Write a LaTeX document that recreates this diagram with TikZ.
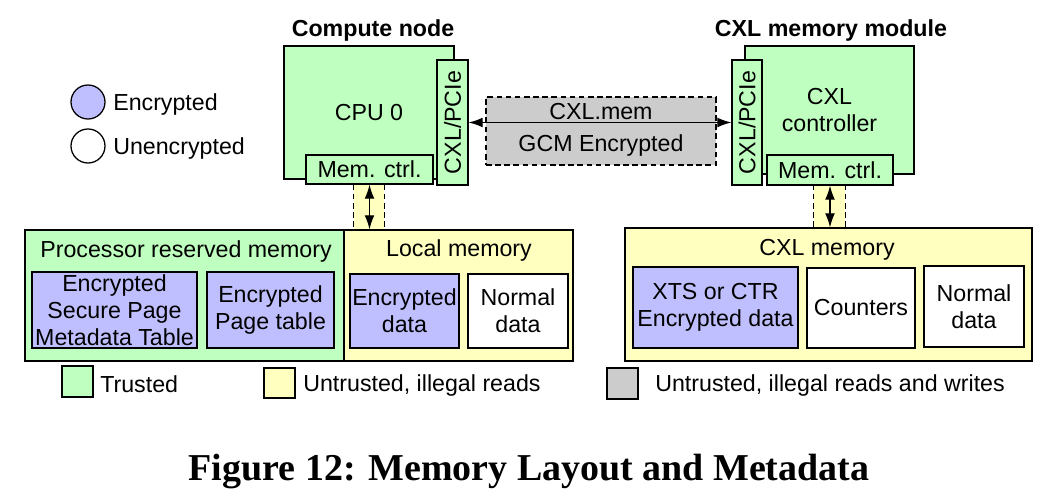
\documentclass[tikz,border=0pt]{standalone}
\usepackage{fontspec}
\setsansfont{Liberation Sans}
\newfontfamily\capfont{Liberation Serif}
\usetikzlibrary{arrows.meta}
\definecolor{trustgreen}{HTML}{BFFFBF}
\definecolor{untrustyellow}{HTML}{FFFFBF}
\definecolor{encblue}{HTML}{BFBFFF}
\definecolor{rwgray}{HTML}{CCCCCC}
\tikzset{
  sz/.style 2 args={minimum width=#1*0.025cm, minimum height=#2*0.025cm},
  box/.style={draw, line width=0.9pt, inner sep=0pt, align=center},
  trusted/.style={box, fill=trustgreen},
  untrusted/.style={box, fill=untrustyellow},
  encrypted/.style={box, fill=encblue},
  plainbox/.style={box, fill=white},
  txt/.style={inner sep=0pt, yshift=-1.6pt},
  dashline/.style={line width=0.9pt, dash pattern=on 4pt off 2.5pt},
  dblarrow/.style={{Latex[length=10pt,width=7pt]}-{Latex[length=10pt,width=7pt]}, line width=0.9pt},
}
\begin{document}
\begin{tikzpicture}[x=0.025cm, y=-0.025cm, font=\sffamily\fontsize{16.5}{19.2}\selectfont]
 \useasboundingbox (0,0) rectangle (1045,490);
 % legend, circles
 \node[encrypted, circle, sz={34}{34}] (legenc) at (88,102) {};
 \node[txt, anchor=west] (legenctxt) at (113,102) {Encrypted};
 \node[plainbox, circle, sz={34}{34}] (legunenc) at (88,146) {};
 \node[txt, anchor=west] (legunenctxt) at (113,146) {Unencrypted};
 % headings
 \node[txt, font=\sffamily\bfseries\fontsize{16.5}{19.2}\selectfont] (cnhead) at (373,28) {Compute node};
 \node[txt, font=\sffamily\bfseries\fontsize{16.5}{19.2}\selectfont] (cmhead) at (831,28) {CXL memory module};
 % memory channels
 \node[fill=untrustyellow, inner sep=0pt, sz={30}{45}] (lchan) at (369,207.5) {};
 \draw[dashline] (lchan.north west) -- (lchan.south west) (lchan.north east) -- (lchan.south east);
 \node[fill=untrustyellow, inner sep=0pt, sz={31}{43}] (rchan) at (829.5,206.5) {};
 \draw[dashline] (rchan.north west) -- (rchan.south west) (rchan.north east) -- (rchan.south east);
 % memories
 \node[trusted, sz={319}{131}] (prm) at (184.5,295.5) {};
 \node[txt] (prmtxt) at (186,249) {Processor reserved memory};
 \node[encrypted, sz={165}{76}] (spmt) at (114.5,310) {Encrypted\\Secure Page\\Metadata Table};
 \node[encrypted, sz={127}{76}] (ptab) at (270.5,310) {Encrypted\\Page table};
 \node[untrusted, sz={229}{131}] (locmem) at (458.5,295.5) {};
 \node[txt] (locmemtxt) at (459,248) {Local memory};
 \node[encrypted, sz={109}{74}] (encdata) at (404.5,311) {Encrypted\\data};
 \node[plainbox, sz={100}{74}] (normdata) at (518,311) {Normal\\data};
 \node[untrusted, sz={407}{133}] (cxlmem) at (828.5,294.5) {};
 \node[txt] (cxlmemtxt) at (827,248) {CXL memory};
 \node[encrypted, sz={165}{81}] (xtsdata) at (715.5,307.5) {XTS or CTR\\Encrypted data};
 \node[plainbox, sz={108}{80}] (counters) at (861,308) {Counters};
 \node[plainbox, sz={100}{81}] (cxlnorm) at (974,306.5) {Normal\\data};
 % compute node
 \node[trusted, sz={170}{133}] (cpu) at (369,112.5) {CPU 0};
 \node[trusted, sz={31}{125}] (cpupcie) at (452.5,122.5) {\rotatebox{90}{CXL/PCIe}};
 \node[trusted, sz={127}{29}] (cpumc) at (369.5,169.5) {Mem. ctrl.};
 % cxl memory module
 \node[trusted, sz={169}{128}] (cxlctrl) at (829.5,110) {CXL\\controller};
 \node[trusted, sz={30}{125}] (cxlpcie) at (747,122.5) {\rotatebox{90}{CXL/PCIe}};
 \node[trusted, sz={126}{30}] (cxlmc) at (830,170) {Mem. ctrl.};
 % link
 \node[fill=rwgray, draw, dashline, sz={230}{68}] (link) at (601,131) {};
 \node[txt] (linktop) at (601,109.5) {CXL.mem};
 \node[txt] (linkbot) at (601,143.5) {GCM Encrypted};
 \draw[dblarrow] (cpupcie.east) -- (cxlpcie.west);
 \draw[dblarrow] (cpumc.south) -- (cpumc.south |- locmem.north);
 \draw[dblarrow] (cxlmc.south) -- (cxlmc.south |- cxlmem.north);
 % legend, squares
 \node[trusted, sz={31}{31}] (legtrust) at (77.5,381.5) {};
 \node[txt, anchor=west] (legtrusttxt) at (100,381.5) {Trusted};
 \node[untrusted, sz={31}{30}] (leguntr) at (279.5,383) {};
 \node[txt, anchor=west] (leguntrtxt) at (303,383) {Untrusted, illegal reads};
 \node[box, fill=rwgray, sz={31}{31}] (legrw) at (622.5,383.5) {};
 \node[txt, anchor=west] (legrwtxt) at (655,383.5) {Untrusted, illegal reads and writes};
 % caption
 \node[txt, font=\capfont\bfseries\fontsize{27}{30}\selectfont] (caption) at (529,469) {Figure 12: Memory Layout and Metadata};
\end{tikzpicture}
\end{document}
